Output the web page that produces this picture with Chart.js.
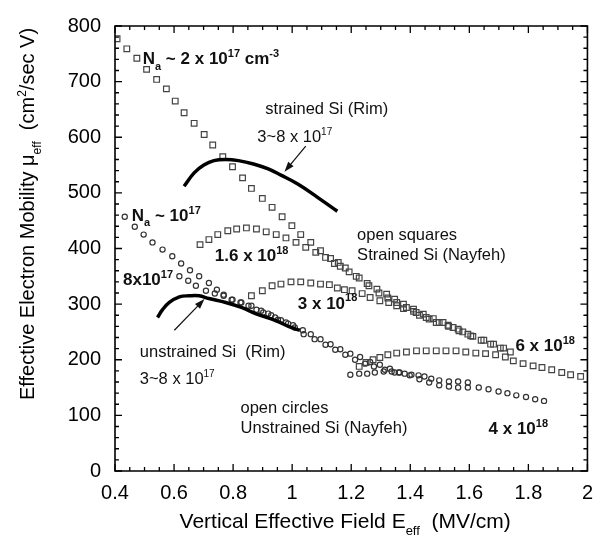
<!DOCTYPE html>
<html>
<head>
<meta charset="utf-8">
<title>Effective Electron Mobility</title>
<script src="https://cdn.jsdelivr.net/npm/chart.js@4.4.0/dist/chart.umd.min.js"></script>
<style>
  html, body { margin: 0; padding: 0; background: #fff; }
  canvas { display: block; }
</style>
</head>
<body>
<canvas id="myChart" width="603" height="550"></canvas>
<script>
const FONT = '"Liberation Sans", Arial, Helvetica, sans-serif';

// eixos
var xTicks = [0.4, 0.6, 0.8, 1, 1.2, 1.4, 1.6, 1.8, 2];
var xTickLabels = ['0.4', '0.6', '0.8', '1', '1.2', '1.4', '1.6', '1.8', '2'];
var yTicks = [0, 100, 200, 300, 400, 500, 600, 700, 800];
var yTickLabels = ['0', '100', '200', '300', '400', '500', '600', '700', '800'];

// Strained Si (Nayfeh) - quadrados
var sq2e17X = [0.407, 0.440, 0.474, 0.507, 0.541, 0.574, 0.604, 0.634, 0.668, 0.702, 0.731, 0.765, 0.798, 0.832, 0.862, 0.899, 0.932, 0.966, 0.999, 1.029, 1.063, 1.096, 1.13, 1.156, 1.18, 1.217, 1.26, 1.294, 1.324, 1.354, 1.387, 1.42, 1.454, 1.488, 1.53, 1.565, 1.605, 1.64, 1.672, 1.705, 1.739];
var sq2e17Y = [777, 759, 742, 722, 704, 687, 665, 644, 625, 605, 586, 565, 547, 527, 508, 490, 474, 457, 441, 425, 411, 396, 382, 375, 365, 350, 333, 320, 311, 303, 294, 285, 276, 267, 260, 252, 243, 235, 228, 221, 214];

var sq16e18X = [0.688, 0.718, 0.748, 0.782, 0.812, 0.845, 0.879, 0.912, 0.946, 0.979, 1.013, 1.046, 1.08, 1.113, 1.143, 1.163, 1.193, 1.227, 1.254, 1.287, 1.32, 1.347, 1.377, 1.411, 1.444, 1.478, 1.511, 1.545, 1.578, 1.612, 1.649, 1.682, 1.716];
var sq16e18Y = [407, 416, 425, 432, 435, 437, 435, 430, 425, 419, 411, 402, 393, 384, 373, 368, 358, 347, 337, 327, 318, 309, 300, 291, 282, 274, 267, 258, 250, 242, 235, 228, 221];

var sq3e18X = [0.862, 0.899, 0.932, 0.962, 0.996, 1.029, 1.063, 1.096, 1.126, 1.153, 1.177, 1.203, 1.237, 1.264, 1.297, 1.327, 1.354, 1.377, 1.411, 1.431, 1.464, 1.498, 1.528, 1.562, 1.595];
var sq3e18Y = [315, 324, 333, 336, 340, 340, 338, 336, 335, 329, 326, 324, 319, 312, 306, 303, 297, 292, 287, 280, 273, 267, 262, 255, 246];

var sq6e18X = [1.227, 1.25, 1.274, 1.297, 1.324, 1.354, 1.387, 1.421, 1.454, 1.488, 1.521, 1.555, 1.588, 1.622, 1.655, 1.689, 1.722, 1.749, 1.782, 1.816, 1.846, 1.879, 1.913, 1.943, 1.977];
var sq6e18Y = [188, 195, 200, 204, 209, 212, 214, 216, 216, 216, 216, 216, 214, 212, 211, 209, 205, 198, 193, 189, 186, 182, 177, 173, 170];

// Unstrained Si (Nayfeh) - circulos
var ci1e17X = [0.433, 0.467, 0.497, 0.527, 0.561, 0.594, 0.624, 0.654, 0.685, 0.718, 0.745, 0.768, 0.795, 0.825, 0.852, 0.879, 0.902, 0.929, 0.952, 0.979, 1.003, 1.036, 1.063, 1.096, 1.13, 1.163, 1.197, 1.23, 1.264, 1.297, 1.331, 1.364, 1.398, 1.431, 1.464, 1.498, 1.531, 1.562, 1.595, 1.632, 1.665, 1.699, 1.729, 1.759, 1.792, 1.823, 1.853];
var ci1e17Y = [457, 439, 425, 411, 398, 386, 373, 361, 350, 338, 326, 317, 308, 303, 297, 290, 285, 280, 272, 267, 262, 253, 246, 237, 228, 219, 211, 205, 196, 191, 184, 177, 172, 165, 159, 154, 152, 150, 150, 150, 147, 143, 140, 136, 133, 129, 126];

var ci8e17X = [0.618, 0.648, 0.674, 0.708, 0.738, 0.768, 0.798, 0.828, 0.862, 0.895, 0.919, 0.942, 0.962, 0.986, 1.009, 1.039, 1.076, 1.113, 1.146, 1.18, 1.213, 1.247, 1.277, 1.314, 1.347];
var ci8e17Y = [350, 342, 333, 324, 319, 315, 308, 303, 297, 288, 283, 276, 271, 265, 258, 246, 237, 227, 218, 209, 200, 193, 188, 182, 177];

var ci4e18X = [1.197, 1.227, 1.254, 1.28, 1.31, 1.337, 1.361, 1.381, 1.404, 1.428, 1.448, 1.471, 1.498, 1.531, 1.562, 1.595];
var ci4e18Y = [173, 175, 175, 177, 179, 179, 177, 175, 173, 172, 170, 166, 163, 161, 161, 159];

// curvas do Rim (linhas cheias)
var rimStrainedX = [0.634, 0.668, 0.701, 0.735, 0.775, 0.818, 0.869, 0.919, 0.962, 1.019, 1.086, 1.153];
var rimStrainedY = [512, 536, 550, 558, 560, 558, 552, 543, 532, 516, 492, 467];
var rimUnstrainedX = [0.544, 0.561, 0.584, 0.618, 0.651, 0.685, 0.718, 0.775, 0.828, 0.885, 0.942, 0.996, 1.026];
var rimUnstrainedY = [276, 290, 303, 313, 315, 315, 310, 303, 294, 281, 271, 258, 253];

// setas (inicio -> ponta), em coordenadas dos eixos
var arrows = [
    { from: [1.046, 584], to: [0.974, 538] },
    { from: [0.601, 253], to: [0.703, 309] }
];

// textos do grafico: [texto, 'sup' | 'sub' | '']
var labels = [
    { x: 0.494, y: 731, bold: true, parts: [['N', ''], ['a', 'sub'], [' ~ 2 x 10', ''], ['17', 'sup'], [' cm', ''], ['-3', 'sup']] },
    { x: 0.909, y: 642, bold: false, parts: [['strained Si (Rim)', '']] },
    { x: 0.882, y: 591, bold: false, parts: [['3~8 x 10', ''], ['17', 'sup']] },
    { x: 0.457, y: 450, bold: true, parts: [['N', ''], ['a', 'sub'], [' ~ 10', ''], ['17', 'sup']] },
    { x: 0.427, y: 335, bold: true, parts: [['8x10', ''], ['17', 'sup']] },
    { x: 0.738, y: 377, bold: true, parts: [['1.6 x 10', ''], ['18', 'sup']] },
    { x: 1.22, y: 416, bold: false, parts: [['open squares', '']] },
    { x: 1.22, y: 379, bold: false, parts: [['Strained Si (Nayfeh)', '']] },
    { x: 1.019, y: 292, bold: true, parts: [['3 x 10', ''], ['18', 'sup']] },
    { x: 1.756, y: 216, bold: true, parts: [['6 x 10', ''], ['18', 'sup']] },
    { x: 0.484, y: 205, bold: false, parts: [['unstrained Si  (Rim)', '']] },
    { x: 0.484, y: 156, bold: false, parts: [['3~8 x 10', ''], ['17', 'sup']] },
    { x: 0.825, y: 104, bold: false, parts: [['open circles', '']] },
    { x: 0.825, y: 69, bold: false, parts: [['Unstrained Si (Nayfeh)', '']] },
    { x: 1.665, y: 67, bold: true, parts: [['4 x 10', ''], ['18', 'sup']] }
];

var xTitle = [['Vertical Effective Field E', ''], ['eff', 'sub'], ['  (MV/cm)', '']];
var yTitle = [['Effective Electron Mobility \u03bc', ''], ['eff', 'sub'], ['  (cm', ''], ['2', 'sup'], ['/sec V)', '']];

function pts(xs, ys) {
    return xs.map(function (x, i) { return { x: x, y: ys[i] }; });
}

function partFont(p, size, bold) {
    var s = p[1] ? Math.round(size * 0.62) : size;
    return (bold ? 'bold ' : '') + s + 'px ' + FONT;
}

function richWidth(ctx, parts, size, bold) {
    var w = 0;
    parts.forEach(function (p) {
        ctx.font = partFont(p, size, bold);
        w += ctx.measureText(p[0]).width;
    });
    return w;
}

function drawRich(ctx, parts, x, y, size, bold, center) {
    var cx = center ? x - richWidth(ctx, parts, size, bold) / 2 : x;
    parts.forEach(function (p) {
        ctx.font = partFont(p, size, bold);
        var dy = p[1] === 'sup' ? -0.42 * size : (p[1] === 'sub' ? 0.33 * size : 0);
        ctx.fillText(p[0], cx, y + dy);
        cx += ctx.measureText(p[0]).width;
    });
}

function drawArrow(ctx, x1, y1, x2, y2) {
    var ang = Math.atan2(y2 - y1, x2 - x1), len = 10, half = 3.5;
    ctx.beginPath();
    ctx.moveTo(x1, y1);
    ctx.lineTo(x2 - Math.cos(ang) * len * 0.8, y2 - Math.sin(ang) * len * 0.8);
    ctx.stroke();
    ctx.beginPath();
    ctx.moveTo(x2, y2);
    ctx.lineTo(x2 - Math.cos(ang) * len + Math.sin(ang) * half, y2 - Math.sin(ang) * len - Math.cos(ang) * half);
    ctx.lineTo(x2 - Math.cos(ang) * len - Math.sin(ang) * half, y2 - Math.sin(ang) * len + Math.cos(ang) * half);
    ctx.closePath();
    ctx.fill();
}

// moldura com ticks para dentro nos quatro lados
var frame = {
    id: 'frame',
    afterDatasetsDraw: function (chart) {
        var c = chart.ctx;
        var sx = chart.scales.x, sy = chart.scales.y;
        var left = sx.left, right = sx.right, top = sy.top, bottom = sy.bottom;
        c.save();
        c.setLineDash([]);
        c.globalAlpha = 1;
        c.strokeStyle = 'black';
        c.lineWidth = 1.6;
        c.beginPath();
        c.rect(left, top, right - left, bottom - top);
        c.stroke();

        c.lineWidth = 1.3;
        c.beginPath();
        for (var i = 0; i <= 32; i++) {
            var px = sx.getPixelForValue(0.4 + i * 0.05);
            var tl = i % 4 === 0 ? 7 : 4;
            c.moveTo(px, bottom); c.lineTo(px, bottom - tl);
            c.moveTo(px, top); c.lineTo(px, top + tl);
        }
        for (var j = 0; j <= 40; j++) {
            var py = sy.getPixelForValue(j * 20);
            var tm = j % 5 === 0 ? 7 : 4;
            c.moveTo(left, py); c.lineTo(left + tm, py);
            c.moveTo(right, py); c.lineTo(right - tm, py);
        }
        c.stroke();
        c.restore();
    }
};

// textos, setas e titulos dos eixos
var annotations = {
    id: 'annotations',
    afterDraw: function (chart) {
        var c = chart.ctx;
        var sx = chart.scales.x, sy = chart.scales.y;
        c.save();
        c.fillStyle = '#111';
        c.textBaseline = 'alphabetic';
        c.textAlign = 'left';
        labels.forEach(function (lb) {
            drawRich(c, lb.parts, sx.getPixelForValue(lb.x), sy.getPixelForValue(lb.y), lb.bold ? 17 : 16.5, lb.bold, false);
        });

        c.strokeStyle = '#111';
        c.lineWidth = 1.2;
        arrows.forEach(function (ar) {
            drawArrow(c, sx.getPixelForValue(ar.from[0]), sy.getPixelForValue(ar.from[1]),
                sx.getPixelForValue(ar.to[0]), sy.getPixelForValue(ar.to[1]));
        });

        c.fillStyle = '#000';
        drawRich(c, xTitle, (sx.left + sx.right) / 2 - 6, 528, 21, false, true);
        c.translate(34, 214);
        c.rotate(-Math.PI / 2);
        drawRich(c, yTitle, 0, 0, 20, false, true);
        c.restore();
    }
};

function squares(xs, ys) {
    return { data: pts(xs, ys), pointStyle: 'rect', pointRadius: 4, borderWidth: 1.2, borderColor: '#444', backgroundColor: 'rgba(0,0,0,0)', showLine: false };
}
function circles(xs, ys) {
    return { data: pts(xs, ys), pointStyle: 'circle', pointRadius: 2.6, borderWidth: 1.2, borderColor: '#333', backgroundColor: 'rgba(0,0,0,0)', showLine: false };
}
function rimLine(xs, ys) {
    return { data: pts(xs, ys), showLine: true, pointRadius: 0, borderWidth: 3.5, borderColor: '#000', tension: 0.4, fill: false };
}

var ctx = document.getElementById('myChart').getContext('2d');
var myChart = new Chart(ctx, {
    type: 'scatter',
    data: {
        datasets: [
            rimLine(rimStrainedX, rimStrainedY),
            rimLine(rimUnstrainedX, rimUnstrainedY),
            squares(sq2e17X, sq2e17Y),
            squares(sq16e18X, sq16e18Y),
            squares(sq3e18X, sq3e18Y),
            squares(sq6e18X, sq6e18Y),
            circles(ci1e17X, ci1e17Y),
            circles(ci8e17X, ci8e17Y),
            circles(ci4e18X, ci4e18Y)
        ]
    },
    options: {
        responsive: false,
        animation: false,
        devicePixelRatio: 1,
        layout: { padding: { top: 19, right: 10, left: 0, bottom: 0 } },
        plugins: { legend: { display: false }, tooltip: { enabled: false } },
        scales: {
            x: {
                type: 'linear', min: 0.4, max: 2,
                grid: { display: false, drawTicks: false },
                border: { display: false },
                afterBuildTicks: function (s) { s.ticks = xTicks.map(function (v) { return { value: v }; }); },
                afterFit: function (s) { s.height = 79; },
                ticks: {
                    padding: 10, color: '#000', maxRotation: 0, autoSkip: false,
                    font: { family: FONT, size: 20 },
                    callback: function (v, i) { return xTickLabels[i]; }
                }
            },
            y: {
                type: 'linear', min: 0, max: 800,
                grid: { display: false, drawTicks: false },
                border: { display: false },
                afterBuildTicks: function (s) { s.ticks = yTicks.map(function (v) { return { value: v }; }); },
                afterFit: function (s) { s.width = 115; },
                ticks: {
                    padding: 14, color: '#000', autoSkip: false,
                    font: { family: FONT, size: 20 },
                    callback: function (v, i) { return yTickLabels[i]; }
                }
            }
        }
    },
    plugins: [frame, annotations]
});
</script>
</body>
</html>
